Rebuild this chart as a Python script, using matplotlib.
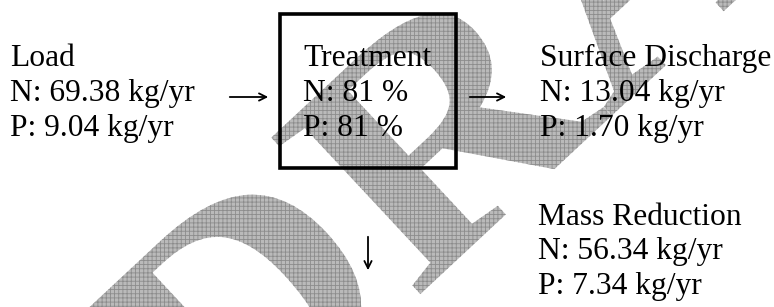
import matplotlib
matplotlib.use('Agg')
import matplotlib.pyplot as plt
from matplotlib.textpath import TextPath
from matplotlib.patches import PathPatch, Rectangle
from matplotlib.font_manager import FontProperties
from matplotlib.transforms import Affine2D
import numpy as np

plt.rcParams['hatch.linewidth'] = 0.6

# diagram content
load_lines = ['Load', 'N: 69.38 kg/yr', 'P: 9.04 kg/yr']
treat_lines = ['Treatment', 'N: 81 %', 'P: 81 %']
discharge_lines = ['Surface Discharge', 'N: 13.04 kg/yr', 'P: 1.70 kg/yr']
reduction_lines = ['Mass Reduction', 'N: 56.34 kg/yr', 'P: 7.34 kg/yr']
watermark = 'DRAFT'

W, H = 774, 307
fig = plt.figure(figsize=(W / 100, H / 100), dpi=100)
ax = fig.add_axes([0, 0, 1, 1])
ax.set_xlim(0, W)
ax.set_ylim(H, 0)
ax.axis('off')

# watermark (stretched WordArt style) behind everything
em = 330
stretch = 1.12
ang = 43
r_origin = np.array([414, 300])
xdir = np.array([np.cos(np.radians(ang)), -np.sin(np.radians(ang))])
origin = r_origin - 0.722 * em * stretch * xdir
wm_path = TextPath((0, 0), watermark, size=em,
                   prop=FontProperties(family='Liberation Serif', weight='bold'))
tr = Affine2D().scale(stretch, 1).rotate_deg(ang).scale(1, -1).translate(*origin)
wm = PathPatch(tr.transform_path(wm_path), facecolor='#bababa', edgecolor='#8c8c8c',
               hatch='++++', lw=0, zorder=0)
ax.add_patch(wm)

fs = 22.7
font = dict(family='Liberation Serif', fontsize=fs, color='black', va='baseline', ha='left')


def block(x, y0, lines, step=35):
    for i, s in enumerate(lines):
        ax.text(x, y0 + i * step, s, zorder=3, **font)


block(10, 66, load_lines)
block(303, 66, treat_lines)
block(540, 66, discharge_lines)
block(538, 225, reduction_lines, step=34.5)

# treatment box
ax.add_patch(Rectangle((280, 14), 176, 154, fill=False, lw=2.6, edgecolor='black', zorder=2))

arrow = dict(arrowstyle='->', lw=1.3, color='black', mutation_scale=13)
ax.annotate('', xy=(271, 97), xytext=(227, 97), arrowprops=arrow, zorder=3)
ax.annotate('', xy=(509, 97), xytext=(467, 97), arrowprops=arrow, zorder=3)
ax.annotate('', xy=(368, 273), xytext=(368, 234), arrowprops=arrow, zorder=3)

fig.savefig('out.png', dpi=100)
